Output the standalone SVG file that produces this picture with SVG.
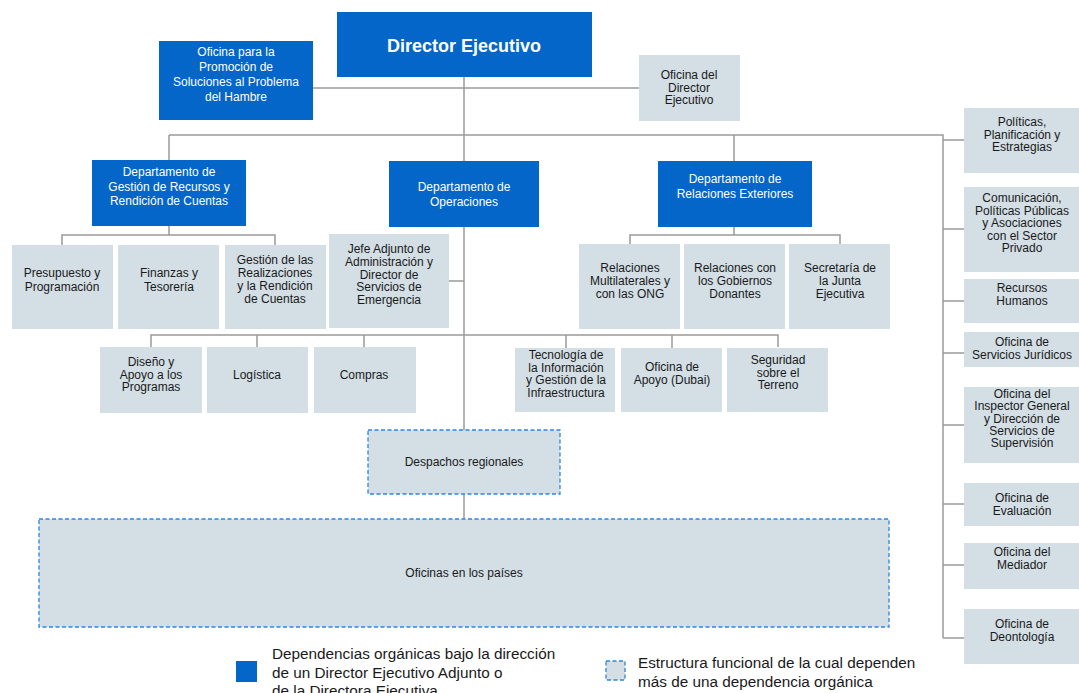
<svg xmlns="http://www.w3.org/2000/svg" width="1079" height="693" viewBox="0 0 1079 693">
<style>
.b{fill:#0466C9}
.g{fill:#D3DEE5}
.d{fill:#D3DEE5;stroke:#2F86DB;stroke-width:1.3;stroke-dasharray:4 2.5}
.tw{font-family:"Liberation Sans",Arial,sans-serif;font-size:12px;fill:#fff;text-anchor:middle}
.tk{font-family:"Liberation Sans",Arial,sans-serif;font-size:12px;fill:#1a1a1a;text-anchor:middle}
.tl{font-family:"Liberation Sans",Arial,sans-serif;font-size:15.3px;fill:#1a1a1a}
.c{stroke:#9A9A9A;stroke-width:1.5;fill:none}
</style>
<rect width="1079" height="693" fill="#fff"/>
<g id="connectors" class="c">
<path d="M313 88H639"/>
<path d="M464 77V161M464 227V430M464 494V519"/>
<path d="M169 135H943V638"/>
<path d="M169 135V160M734 135V161"/>
<path d="M169 226V235M62 245V235H275V245"/>
<path d="M734 227V235M630 245V235H840V245"/>
<path d="M449 281H464"/>
<path d="M151 347V335H778V347M257 335V347M364 335V347M566 335V348M672 335V348"/>
<path d="M943 140H964M943 229H964M943 301H964M943 353H964M943 425H964M943 504H964M943 565H964M943 638H964"/>
</g>
<g id="director"><rect class="b" x="337" y="12" width="255" height="65"/><text x="464" y="52" font-family="Liberation Sans,Arial,sans-serif" font-size="18" font-weight="bold" fill="#fff" text-anchor="middle">Director Ejecutivo</text></g>
<g id="hambre"><rect class="b" x="159" y="41" width="154" height="79"/><text class="tw" x="236" y="56">Oficina para la<tspan x="236" dy="15">Promoción de</tspan><tspan x="236" dy="15">Soluciones al Problema</tspan><tspan x="236" dy="15">del Hambre</tspan></text></g>
<g id="oficina-director"><rect class="g" x="639" y="55" width="101" height="66"/><text class="tk" x="689" y="79">Oficina del<tspan x="689" dy="12.5">Director</tspan><tspan x="689" dy="12.5">Ejecutivo</tspan></text></g>
<g id="dep-gestion"><rect class="b" x="92" y="160" width="154" height="66"/><text class="tw" x="169" y="176">Departamento de<tspan x="169" dy="14.5">Gestión de Recursos y</tspan><tspan x="169" dy="14.5">Rendición de Cuentas</tspan></text></g>
<g id="dep-operaciones"><rect class="b" x="389" y="161" width="150" height="66"/><text class="tw" x="464" y="191">Departamento de<tspan x="464" dy="15">Operaciones</tspan></text></g>
<g id="dep-relaciones"><rect class="b" x="658" y="161" width="154" height="66"/><text class="tw" x="735" y="183">Departamento de<tspan x="735" dy="15">Relaciones Exteriores</tspan></text></g>
<g id="presupuesto"><rect class="g" x="12" y="245" width="101" height="84"/><text class="tk" x="62" y="277">Presupuesto y<tspan x="62" dy="14">Programación</tspan></text></g>
<g id="finanzas"><rect class="g" x="118" y="245" width="101" height="84"/><text class="tk" x="169" y="277">Finanzas y<tspan x="169" dy="14">Tesorería</tspan></text></g>
<g id="realizaciones"><rect class="g" x="225" y="245" width="101" height="84"/><text class="tk" x="275" y="264">Gestión de las<tspan x="275" dy="13">Realizaciones</tspan><tspan x="275" dy="13">y la Rendición</tspan><tspan x="275" dy="13">de Cuentas</tspan></text></g>
<g id="jefe-adjunto"><rect class="g" x="329" y="234" width="120" height="94"/><text class="tk" x="389" y="253">Jefe Adjunto de<tspan x="389" dy="12.8">Administración y</tspan><tspan x="389" dy="12.8">Director de</tspan><tspan x="389" dy="12.8">Servicios de</tspan><tspan x="389" dy="12.8">Emergencia</tspan></text></g>
<g id="multilaterales"><rect class="g" x="579" y="244" width="101" height="85"/><text class="tk" x="630" y="272">Relaciones<tspan x="630" dy="13">Multilaterales y</tspan><tspan x="630" dy="13">con las ONG</tspan></text></g>
<g id="donantes"><rect class="g" x="684" y="244" width="101" height="85"/><text class="tk" x="735" y="272">Relaciones con<tspan x="735" dy="13">los Gobiernos</tspan><tspan x="735" dy="13">Donantes</tspan></text></g>
<g id="secretaria"><rect class="g" x="789" y="244" width="101" height="85"/><text class="tk" x="840" y="272">Secretaría de<tspan x="840" dy="13">la Junta</tspan><tspan x="840" dy="13">Ejecutiva</tspan></text></g>
<g id="diseno"><rect class="g" x="100" y="347" width="102" height="66"/><text class="tk" x="151" y="366">Diseño y<tspan x="151" dy="12.5">Apoyo a los</tspan><tspan x="151" dy="12.5">Programas</tspan></text></g>
<g id="logistica"><rect class="g" x="207" y="347" width="101" height="66"/><text class="tk" x="257" y="379">Logística</text></g>
<g id="compras"><rect class="g" x="314" y="347" width="102" height="66"/><text class="tk" x="364" y="379">Compras</text></g>
<g id="tecnologia"><rect class="g" x="515" y="348" width="100" height="64"/><text class="tk" x="566" y="359">Tecnología de<tspan x="566" dy="12.5">la Información</tspan><tspan x="566" dy="12.5">y Gestión de la</tspan><tspan x="566" dy="12.5">Infraestructura</tspan></text></g>
<g id="dubai"><rect class="g" x="621" y="348" width="101" height="64"/><text class="tk" x="672" y="371">Oficina de<tspan x="672" dy="13">Apoyo (Dubai)</tspan></text></g>
<g id="seguridad"><rect class="g" x="727" y="348" width="101" height="64"/><text class="tk" x="778" y="364">Seguridad<tspan x="778" dy="12.5">sobre el</tspan><tspan x="778" dy="12.5">Terreno</tspan></text></g>
<g id="despachos"><rect class="d" x="368" y="430" width="192" height="64"/><text class="tk" x="464" y="466">Despachos regionales</text></g>
<g id="oficinas-paises"><rect class="d" x="39" y="519" width="850" height="108"/><text class="tk" x="464" y="577">Oficinas en los países</text></g>
<g id="politicas"><rect class="g" x="964" y="108" width="115" height="65"/><text class="tk" x="1022" y="126">Políticas,<tspan x="1022" dy="12.5">Planificación y</tspan><tspan x="1022" dy="12.5">Estrategias</tspan></text></g>
<g id="comunicacion"><rect class="g" x="964" y="187" width="115" height="85"/><text class="tk" x="1022" y="202">Comunicación,<tspan x="1022" dy="12.5">Políticas Públicas</tspan><tspan x="1022" dy="12.5">y Asociaciones</tspan><tspan x="1022" dy="12.5">con el Sector</tspan><tspan x="1022" dy="12.5">Privado</tspan></text></g>
<g id="rrhh"><rect class="g" x="964" y="279" width="115" height="44"/><text class="tk" x="1022" y="292">Recursos<tspan x="1022" dy="13">Humanos</tspan></text></g>
<g id="juridicos"><rect class="g" x="964" y="332" width="115" height="35"/><text class="tk" x="1022" y="346">Oficina de<tspan x="1022" dy="12.5">Servicios Jurídicos</tspan></text></g>
<g id="inspector"><rect class="g" x="964" y="387" width="115" height="76"/><text class="tk" x="1022" y="398">Oficina del<tspan x="1022" dy="12.3">Inspector General</tspan><tspan x="1022" dy="12.3">y Dirección de</tspan><tspan x="1022" dy="12.3">Servicios de</tspan><tspan x="1022" dy="12.3">Supervisión</tspan></text></g>
<g id="evaluacion"><rect class="g" x="964" y="483" width="115" height="43"/><text class="tk" x="1022" y="502">Oficina de<tspan x="1022" dy="13">Evaluación</tspan></text></g>
<g id="mediador"><rect class="g" x="964" y="543" width="115" height="46"/><text class="tk" x="1022" y="556">Oficina del<tspan x="1022" dy="13">Mediador</tspan></text></g>
<g id="deontologia"><rect class="g" x="964" y="609" width="115" height="55"/><text class="tk" x="1022" y="628">Oficina de<tspan x="1022" dy="13">Deontología</tspan></text></g>
<g id="legend">
<rect class="b" x="236" y="661" width="21" height="21"/>
<text class="tl" x="272" y="659">Dependencias orgánicas bajo la dirección<tspan x="272" dy="18.5">de un Director Ejecutivo Adjunto o</tspan><tspan x="272" dy="18.5">de la Directora Ejecutiva</tspan></text>
<rect class="d" x="606" y="661" width="19" height="19"/>
<text class="tl" x="638" y="668">Estructura funcional de la cual dependen<tspan x="638" dy="19">más de una dependencia orgánica</tspan></text>
</g>
</svg>
